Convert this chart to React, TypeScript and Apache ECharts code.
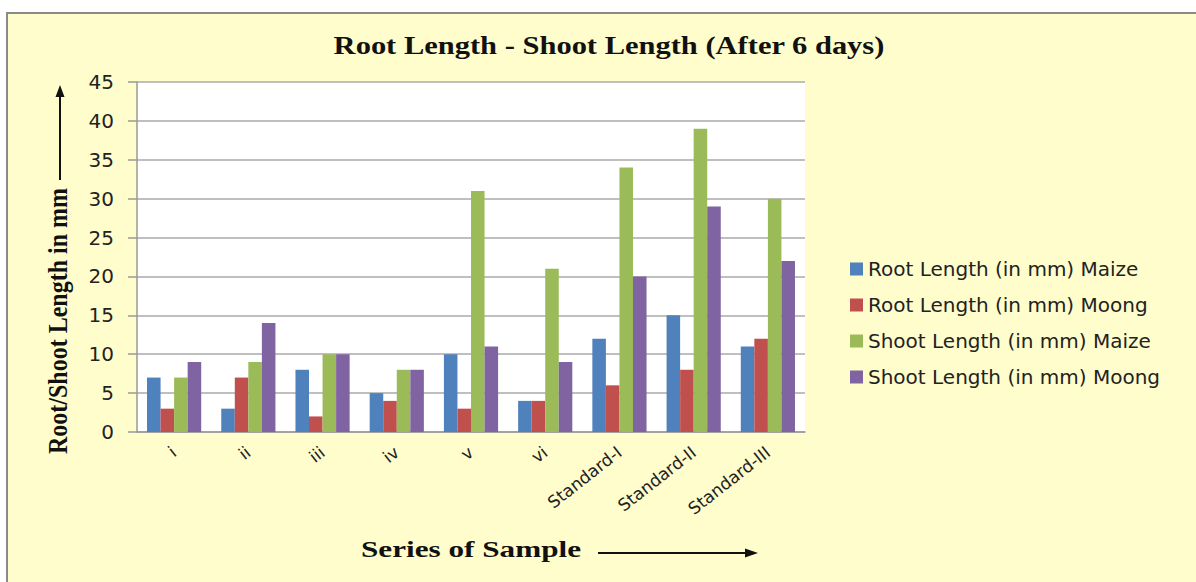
import React, { useEffect, useRef } from "react";
import * as echarts from "echarts";

const categories = ["i", "ii", "iii", "iv", "v", "vi", "Standard-I", "Standard-II", "Standard-III"];
const rootMaize = [7, 3, 8, 5, 10, 4, 12, 15, 11];
const rootMoong = [3, 7, 2, 4, 3, 4, 6, 8, 12];
const shootMaize = [7, 9, 10, 8, 31, 21, 34, 39, 30];
const shootMoong = [9, 14, 10, 8, 11, 9, 20, 29, 22];
const seriesNames = [
  "Root Length (in mm) Maize",
  "Root Length (in mm) Moong",
  "Shoot Length (in mm) Maize",
  "Shoot Length (in mm) Moong",
];
const colors = ["#4F81BD", "#C0504D", "#9BBB59", "#8064A2"];

export default function App() {
  const ref = useRef<HTMLDivElement>(null);
  useEffect(() => {
    if (!ref.current) return;
    const chart = echarts.init(ref.current, undefined, { renderer: "svg" });
    const data = [rootMaize, rootMoong, shootMaize, shootMoong];
    chart.setOption({
      animation: false,
      color: colors,
      backgroundColor: "#ffffff",
      legend: {
        orient: "vertical",
        left: 845,
        top: 254,
        itemWidth: 13,
        itemHeight: 13,
        itemGap: 16,
        icon: "rect",
        textStyle: { fontFamily: "DejaVu Sans", fontSize: 20, color: "#222" },
        data: seriesNames,
      },
      grid: {
        left: 137,
        top: 82,
        width: 668,
        height: 350,
        show: true,
        backgroundColor: "#ffffff",
        borderWidth: 0,
        containLabel: false,
      },
      xAxis: {
        type: "category",
        data: categories,
        axisLine: { lineStyle: { color: "#999", width: 1.5 } },
        axisTick: { show: false },
        axisLabel: {
          rotate: 38,
          margin: 18,
          fontFamily: "DejaVu Sans",
          fontSize: 17,
          color: "#222",
          interval: 0,
        },
      },
      yAxis: {
        type: "value",
        min: 0,
        max: 45,
        interval: 5,
        axisLine: { show: true, lineStyle: { color: "#999", width: 1.5 } },
        axisTick: { show: true, length: 9, lineStyle: { color: "#999", width: 1.5 } },
        splitLine: { lineStyle: { color: "#aaa", width: 1.5 } },
        axisLabel: { margin: 23, fontFamily: "DejaVu Sans", fontSize: 20, color: "#222" },
      },
      series: seriesNames.map((name, i) => ({
        name,
        type: "bar",
        data: data[i],
        barGap: "0%",
        barCategoryGap: "27%",
        itemStyle: { color: colors[i] },
      })),
      graphic: [
        {
          type: "rect",
          z: -10,
          shape: { x: 7, y: 13, width: 1300, height: 700 },
          style: { fill: "#FFFDCB", stroke: "#8a8a8a", lineWidth: 2 },
        },
        {
          type: "text",
          x: 609,
          y: 45,
          scaleX: 1.22,
          style: {
            text: "Root Length - Shoot Length (After 6 days)",
            fontFamily: "Liberation Serif",
            fontWeight: "bold",
            fontSize: 25,
            fill: "#111",
            align: "center",
            verticalAlign: "middle",
          },
        },
        {
          type: "text",
          x: 58,
          y: 321,
          rotation: Math.PI / 2,
          scaleY: 1.15,
          style: {
            text: "Root/Shoot Length in mm",
            fontFamily: "Liberation Serif",
            fontWeight: "bold",
            fontSize: 24,
            fill: "#111",
            align: "center",
            verticalAlign: "middle",
          },
        },
        {
          type: "line",
          shape: { x1: 60, y1: 180, x2: 60, y2: 94 },
          style: { stroke: "#111", lineWidth: 2 },
        },
        {
          type: "polygon",
          shape: { points: [[60, 85], [55.5, 97], [64.5, 97]] },
          style: { fill: "#111" },
        },
        {
          type: "text",
          x: 471,
          y: 549,
          scaleX: 1.3,
          style: {
            text: "Series of Sample",
            fontFamily: "Liberation Serif",
            fontWeight: "bold",
            fontSize: 24,
            fill: "#111",
            align: "center",
            verticalAlign: "middle",
          },
        },
        {
          type: "line",
          shape: { x1: 598, y1: 553, x2: 748, y2: 553 },
          style: { stroke: "#111", lineWidth: 2 },
        },
        {
          type: "polygon",
          shape: { points: [[758, 553], [745, 548.5], [745, 557.5]] },
          style: { fill: "#111" },
        },
      ],
    });
    return () => chart.dispose();
  }, []);
  return (
    <div
      ref={ref}
      style={{ position: "absolute", left: 0, top: 0, width: 1196, height: 582 }}
    />
  );
}
